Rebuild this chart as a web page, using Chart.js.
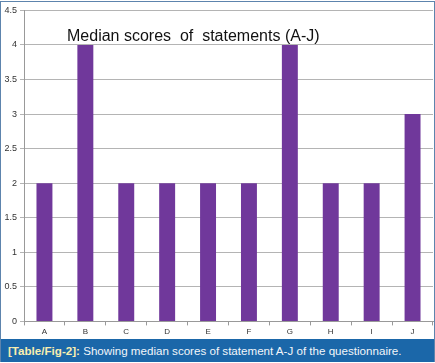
<!DOCTYPE html>
<html>
<head>
<meta charset="utf-8">
<script src="https://cdn.jsdelivr.net/npm/chart.js@4/dist/chart.umd.min.js"></script>
<style>
  body { margin: 0; background: #fff; font-family: "Liberation Sans", Arial, sans-serif; }
  #fig { position: absolute; left: 0; top: 1px; width: 433px; border: 1px solid #5d84ad; border-bottom: none; }
  #box { position: relative; width: 433px; height: 337px; }
  #caption { height: 23px; line-height: 23px; background: #1b67a9; color: #f2f6fa; font-size: 11.6px; padding-left: 7px; white-space: nowrap; }
  #caption b { color: #f8eeb0; }
</style>
</head>
<body>
<div id="fig">
  <div id="box"><canvas id="chart"></canvas></div>
  <div id="caption"><b>[Table/Fig-2]:</b> Showing median scores of statement A-J of the questionnaire.</div>
</div>
<script>
// --- Data ---
const statements = ['A', 'B', 'C', 'D', 'E', 'F', 'G', 'H', 'I', 'J'];
const medianScores = [2, 4, 2, 2, 2, 2, 4, 2, 2, 3];
const chartTitle = 'Median scores  of  statements (A-J)';

// title sits inside the plot area, like the spreadsheet chart
const innerTitle = {
    id: 'innerTitle',
    afterDraw(chart) {
        const { ctx, chartArea } = chart;
        ctx.save();
        ctx.font = '16px "Liberation Sans", Arial, sans-serif';
        ctx.fillStyle = '#111';
        ctx.textBaseline = 'alphabetic';
        ctx.fillText(chartTitle, chartArea.left + 43, 39);
        ctx.restore();
    }
};

const ctx = document.getElementById('chart').getContext('2d');
new Chart(ctx, {
    type: 'bar',
    data: {
        labels: statements,
        datasets: [{
            data: medianScores,
            backgroundColor: '#70389b',
            categoryPercentage: 1,
            barPercentage: 0.39
        }]
    },
    options: {
        responsive: true,
        maintainAspectRatio: false,
        animation: false,
        layout: { padding: { top: 5, right: 1, left: 0, bottom: 0 } },
        plugins: { legend: { display: false }, tooltip: { enabled: false } },
        scales: {
            x: {
                grid: { display: true, drawOnChartArea: false, offset: true, color: '#999', tickLength: 4 },
                border: { color: '#999' },
                ticks: { color: '#333', font: { size: 8, family: 'Liberation Sans' }, padding: 2 }
            },
            y: {
                min: 0,
                max: 4.5,
                afterFit(scale) { scale.width = 23; },
                grid: { color: '#b4b4b4', tickLength: 4 },
                border: { color: '#999' },
                ticks: {
                    stepSize: 0.5,
                    color: '#333',
                    font: { size: 9, family: 'Liberation Sans' },
                    padding: 3,
                    callback: (v) => String(v)
                }
            }
        }
    },
    plugins: [innerTitle]
});
</script>
</body>
</html>
